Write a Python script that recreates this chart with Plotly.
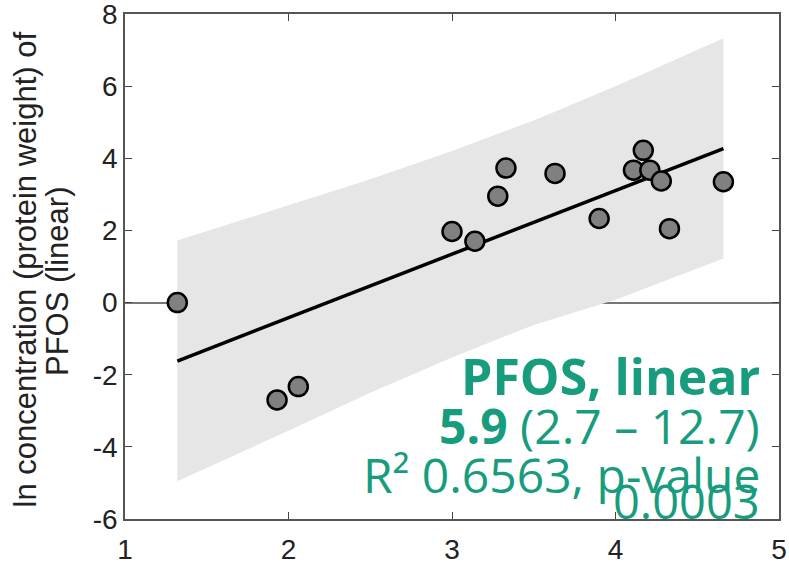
import plotly.graph_objects as go

# Data
pt_x = [1.32, 1.93, 2.06, 3.00, 3.14, 3.28, 3.33, 3.63, 3.90, 4.11, 4.17, 4.21, 4.28, 4.33, 4.66]
pt_y = [0.00, -2.70, -2.33, 1.97, 1.70, 2.95, 3.73, 3.58, 2.33, 3.67, 4.22, 3.67, 3.37, 2.05, 3.35]

fit_x = [1.32, 4.66]
fit_y = [-1.62, 4.27]

band_x = [1.32, 2.0, 2.5, 3.0, 3.5, 4.0, 4.66]
band_upper = [1.72, 2.70, 3.42, 4.20, 5.05, 6.00, 7.33]
band_lower = [-4.95, -3.55, -2.50, -1.52, -0.62, 0.08, 1.22]

x_ticks = [1, 2, 3, 4, 5]
x_tick_labels = ["1", "2", "3", "4", "5"]
y_ticks = [-6, -4, -2, 0, 2, 4, 6, 8]
y_tick_labels = ["-6", "-4", "-2", "0", "2", "4", "6", "8"]

y_title_lines = ["ln concentration (protein weight) of", "PFOS (linear)"]
title_line = "PFOS, linear"
estimate_line = "<b>5.9</b> (2.7 – 12.7)"
r2_line = "R² 0.6563, p-value"
p_line = "0.0003"

GREEN = "#179C7D"

# figure geometry in page pixels
W, H_FIG = 789, 564
L, R, T, B = 125, 10, 14, 45
PW, PH = W - L - R, H_FIG - T - B


def px(fx):
    return (fx - L) / PW


def py(fy):
    return 1 - (fy - T) / PH


fig = go.Figure()

fig.add_trace(go.Scatter(
    x=band_x + band_x[::-1],
    y=band_upper + band_lower[::-1],
    fill="toself", fillcolor="#e6e6e6",
    line=dict(width=0), mode="lines", hoverinfo="skip", showlegend=False))

fig.add_trace(go.Scatter(
    x=fit_x, y=fit_y, mode="lines",
    line=dict(color="black", width=3.5), showlegend=False))

fig.add_trace(go.Scatter(
    x=pt_x, y=pt_y, mode="markers",
    marker=dict(size=19, color="#808080", line=dict(color="black", width=2.5)),
    showlegend=False))

ann_family = "Open Sans, Noto Sans, sans-serif"
for txt, size, yc in [("<b>" + title_line + "</b>", 50, 376),
                      (estimate_line, 48, 425),
                      (r2_line, 48, 474),
                      (p_line, 47, 501)]:
    fig.add_annotation(text=txt, x=px(762), y=py(yc), xref="paper", yref="paper",
                       xanchor="right", yanchor="middle", showarrow=False,
                       font=dict(family=ann_family, size=size, color=GREEN), align="right")

title_font = dict(family="Liberation Sans, Arial, sans-serif", size=31, color="#222")
for txt, xc, yc in [(y_title_lines[0], 24.5, 270), (y_title_lines[1], 57, 282)]:
    fig.add_annotation(text=txt, x=px(xc), y=py(yc), xref="paper", yref="paper",
                       xanchor="center", yanchor="middle", textangle=-90,
                       showarrow=False, font=title_font)

axis_common = dict(
    showgrid=False, ticks="inside", ticklen=7, tickwidth=1, tickcolor="#444",
    showline=True, linecolor="#555", linewidth=1.5, mirror="ticks",
    tickfont=dict(family="Liberation Sans, Arial, sans-serif", size=28, color="#222"),
    ticklabeloverflow="allow", automargin=False,
)

fig.update_xaxes(range=[1, 5], tickvals=x_ticks, ticktext=x_tick_labels, zeroline=False,
                 ticklabelstandoff=5, **axis_common)
fig.update_yaxes(range=[-6, 8], tickvals=y_ticks, ticktext=y_tick_labels, zeroline=True,
                 zerolinecolor="#777", zerolinewidth=1.5, **axis_common)

fig.update_layout(
    width=W, height=H_FIG,
    margin=dict(l=L, r=R, t=T, b=B),
    plot_bgcolor="white", paper_bgcolor="white",
    showlegend=False,
)

fig.write_html("out.html", config={"displayModeBar": False},
               post_script="document.body.style.margin='0';")
